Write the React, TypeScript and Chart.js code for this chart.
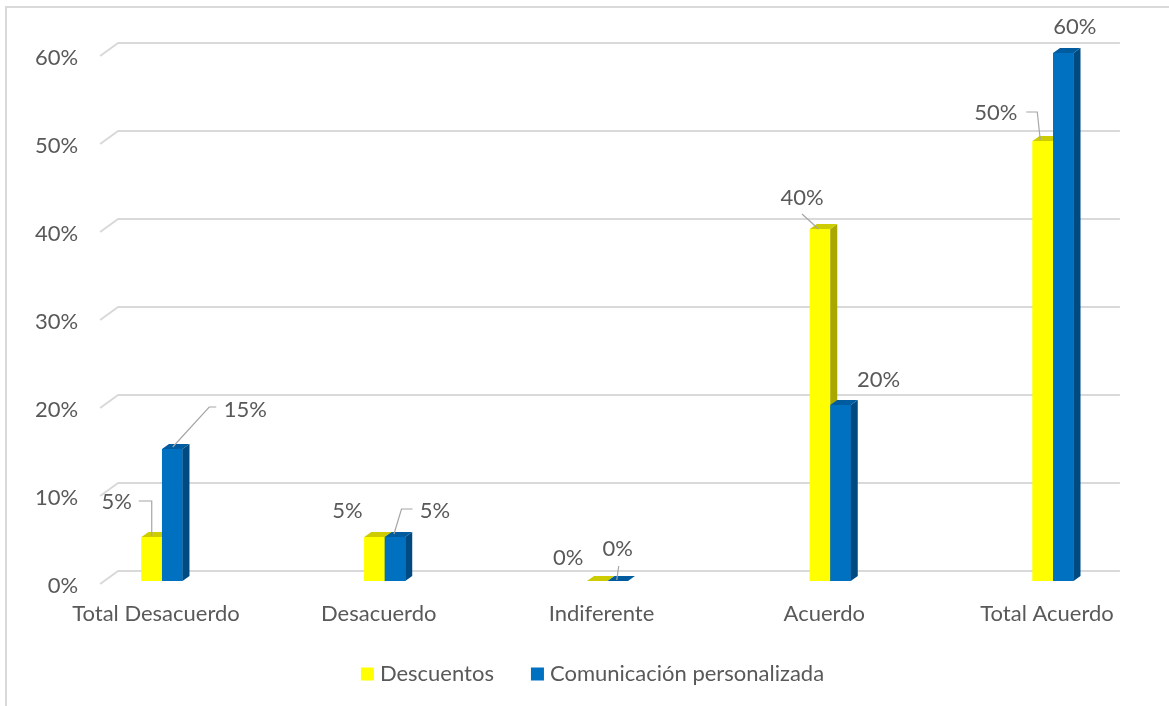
import React, { useEffect, useRef } from 'react';
import { Chart, registerables } from 'chart.js';
Chart.register(...registerables);

const categories = ['Total Desacuerdo', 'Desacuerdo', 'Indiferente', 'Acuerdo', 'Total Acuerdo'];
const descuentos = [5, 5, 0, 40, 50];
const comunicacion = [15, 5, 0, 20, 60];
const yTicks = [0, 10, 20, 30, 40, 50, 60];
const seriesNames = ['Descuentos', 'Comunicación personalizada'];

const FONT = 'Lato, "Open Sans", sans-serif';
const FS = 22;
const TEXT = '#595959';
const GRID = '#D9D9D9';
const DX = 7;
const DY = 5;

const faceColors = [
  { front: '#FFFF00', top: '#CCCC00', side: '#A8A800' },
  { front: '#0070C0', top: '#005C9E', side: '#004A82' },
];

// label placement relative to the bar's top centre (annotation layout)
const labelLayout: any[][] = [
  [
    { dx: -35, dy: -35, leader: [[-13, -36], [0, -36], [0, -1]] },
    { dx: -27, dy: -26 },
    { dx: -29, dy: -23 },
    { dx: -18, dy: -31, leader: [[-18, -15], [-1.5, 0]] },
    { dx: -47, dy: -28, leader: [[-16.5, -29], [-5.5, -29], [-2.5, -1]] },
  ],
  [
    { dx: 73, dy: -39, leader: [[44, -42], [37, -42], [0.5, -2]] },
    { dx: 40, dy: -26, leader: [[17.5, -28], [6.5, -28], [-1, -3]] },
    { dx: 0, dy: -32, leader: [[1, -15], [-1, -1]] },
    { dx: 38, dy: -25 },
    { dx: 11.5, dy: -26 },
  ],
];

const framePlugin = {
  id: 'frame',
  beforeDraw(chart: any) {
    const ctx = chart.ctx;
    ctx.save();
    ctx.fillStyle = GRID;
    ctx.fillRect(5, 6, 2, chart.height - 6);
    ctx.fillRect(5, 6, chart.width - 5, 2);
    ctx.restore();
  },
};

const gridPlugin = {
  id: 'grid3d',
  beforeDatasetsDraw(chart: any) {
    const ctx = chart.ctx;
    const y = chart.scales.y;
    const a = chart.chartArea;
    const x0 = a.left + 49.5;
    const x1 = a.left + 67.5;
    const x2 = a.right - 44.5;
    ctx.save();
    ctx.strokeStyle = GRID;
    ctx.lineWidth = 2;
    ctx.font = `${FS}px ${FONT}`;
    ctx.fillStyle = TEXT;
    ctx.textAlign = 'right';
    ctx.textBaseline = 'middle';
    yTicks.forEach((t) => {
      const py = y.getPixelForValue(t);
      ctx.beginPath();
      ctx.moveTo(x0, py + 3);
      ctx.lineTo(x1, py - 10);
      ctx.lineTo(x2, py - 10);
      ctx.stroke();
      ctx.fillText(`${t}%`, a.left + 27.5, py + 4.5);
    });
    ctx.restore();
  },
};

const threeDPlugin = {
  id: 'threeD',
  afterDatasetsDraw(chart: any) {
    const ctx = chart.ctx;
    ctx.save();
    chart.data.datasets.forEach((_ds: any, di: number) => {
      const meta = chart.getDatasetMeta(di);
      const cols = faceColors[di];
      meta.data.forEach((el: any) => {
        const { x, y, base, width } = el.getProps(['x', 'y', 'base', 'width'], true);
        const l = x - width / 2;
        const r = x + width / 2;
        ctx.fillStyle = cols.front;
        ctx.fillRect(l, y, width, base - y);
        ctx.fillStyle = cols.side;
        ctx.beginPath();
        ctx.moveTo(r, y);
        ctx.lineTo(r + DX, y - DY);
        ctx.lineTo(r + DX, base - DY);
        ctx.lineTo(r, base);
        ctx.closePath();
        ctx.fill();
        ctx.fillStyle = cols.top;
        ctx.beginPath();
        ctx.moveTo(l, y);
        ctx.lineTo(l + DX, y - DY);
        ctx.lineTo(r + DX, y - DY);
        ctx.lineTo(r, y);
        ctx.closePath();
        ctx.fill();
      });
    });
    ctx.restore();
  },
};

const labelPlugin = {
  id: 'valueLabels',
  afterDraw(chart: any) {
    const ctx = chart.ctx;
    ctx.save();
    ctx.font = `${FS}px ${FONT}`;
    ctx.fillStyle = TEXT;
    ctx.textAlign = 'center';
    ctx.textBaseline = 'middle';
    chart.data.datasets.forEach((ds: any, di: number) => {
      const meta = chart.getDatasetMeta(di);
      meta.data.forEach((el: any, i: number) => {
        const { x, y } = el.getProps(['x', 'y'], true);
        const cfg = labelLayout[di][i];
        if (cfg.leader) {
          ctx.strokeStyle = '#A6A6A6';
          ctx.lineWidth = 1.2;
          ctx.beginPath();
          cfg.leader.forEach((p: number[], k: number) => {
            if (k === 0) ctx.moveTo(x + p[0], y + p[1]);
            else ctx.lineTo(x + p[0], y + p[1]);
          });
          ctx.stroke();
        }
        ctx.fillText(`${ds.data[i]}%`, x + cfg.dx, y + cfg.dy);
      });
    });
    ctx.restore();
  },
};

const legendPlugin = {
  id: 'customLegend',
  afterDraw(chart: any) {
    const ctx = chart.ctx;
    const a = chart.chartArea;
    const box = 13;
    const gapText = 6;
    const gapItem = 37;
    ctx.save();
    ctx.font = `${FS}px ${FONT}`;
    ctx.textBaseline = 'middle';
    ctx.textAlign = 'left';
    const items = chart.data.datasets.map((ds: any, i: number) => ({
      text: ds.label,
      color: faceColors[i].front,
      w: box + gapText + ctx.measureText(ds.label).width,
    }));
    const total = items.reduce((s: number, it: any) => s + it.w, 0) + gapItem * (items.length - 1);
    const cx = (a.left + a.right) / 2 - 15;
    const cy = a.bottom + 93;
    let x = cx - total / 2;
    items.forEach((it: any) => {
      ctx.fillStyle = it.color;
      ctx.fillRect(x, cy - box / 2, box, box);
      ctx.fillStyle = TEXT;
      ctx.fillText(it.text, x + box + gapText, cy);
      x += it.w + gapItem;
    });
    ctx.restore();
  },
};

export default function App() {
  const ref = useRef<HTMLCanvasElement>(null);
  useEffect(() => {
    if (!ref.current) return;
    const chart = new Chart(ref.current, {
      type: 'bar',
      data: {
        labels: categories,
        datasets: [
          {
            label: seriesNames[0],
            data: descuentos,
            backgroundColor: faceColors[0].front,
            borderWidth: 0,
            categoryPercentage: 0.184,
            barPercentage: 1,
          },
          {
            label: seriesNames[1],
            data: comunicacion,
            backgroundColor: faceColors[1].front,
            borderWidth: 0,
            categoryPercentage: 0.184,
            barPercentage: 1,
          },
        ],
      },
      options: {
        responsive: false,
        animation: false,
        events: [],
        layout: { padding: { left: 50.6, right: 4.6, top: 53, bottom: 73 } },
        scales: {
          x: {
            type: 'category',
            grid: { display: false, drawTicks: false },
            border: { display: false },
            ticks: {
              font: { family: FONT, size: FS },
              color: TEXT,
              padding: 20,
              labelOffset: -6,
              maxRotation: 0,
              autoSkip: false,
            },
            afterFit: (scale: any) => {
              scale.height = 52;
            },
          },
          y: {
            display: false,
            min: 0,
            max: 60,
          },
        },
        plugins: {
          tooltip: { enabled: false },
          legend: { display: false },
        },
      },
      plugins: [framePlugin, gridPlugin, threeDPlugin, labelPlugin, legendPlugin],
    });
    return () => chart.destroy();
  }, []);
  return (
    <div style={{ position: 'fixed', left: 0, top: 0, width: 1169, height: 706, background: '#fff' }}>
      <canvas ref={ref} width={1169} height={706} />
    </div>
  );
}
